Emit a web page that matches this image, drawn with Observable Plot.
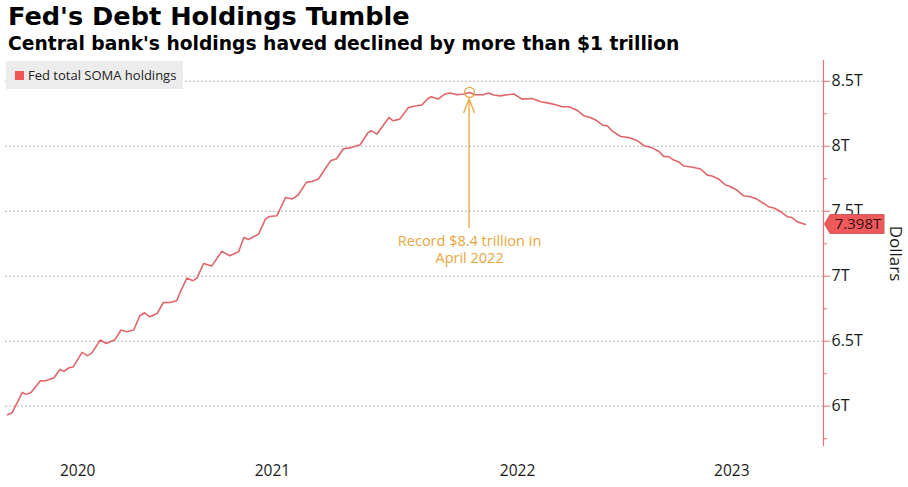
<!DOCTYPE html>
<html><head><meta charset="utf-8">
<script src="https://cdn.jsdelivr.net/npm/d3@7"></script>
<script src="https://cdn.jsdelivr.net/npm/@observablehq/plot@0.6"></script>
<style>
body{margin:0;background:#fff;}
#wrap{position:relative;width:908px;height:487px;overflow:hidden;background:#fff;}
#hdr{height:58px;position:relative;}
.t{position:absolute;left:8px;font-family:"DejaVu Sans",sans-serif;font-weight:bold;color:#000;white-space:nowrap;}
#title{top:3px;font-size:25.6px;line-height:26px;}
#sub{top:34px;font-size:18.7px;line-height:19px;}
#legend{position:absolute;left:6px;top:61px;width:177px;height:28px;background:#ececec;display:flex;align-items:center;font-family:"Open Sans",sans-serif;font-size:13px;color:#222;z-index:2;}
#legend span.sw{display:inline-block;width:9px;height:9px;background:#ee5555;margin-left:9px;margin-right:4px;}
</style></head>
<body>
<div id="wrap">
  <div id="hdr">
    <div id="title" class="t">Fed's Debt Holdings Tumble</div>
    <div id="sub" class="t">Central bank's holdings haved declined by more than $1 trillion</div>
  </div>
  <div id="legend"><span class="sw"></span><span>Fed total SOMA holdings</span></div>
  <div id="chart"></div>
</div>
<script>
// Data (trillions of dollars)
const dates = [
"2020-06-03","2020-06-10","2020-06-25","2020-07-01","2020-07-08","2020-07-22","2020-07-28","2020-08-11",
"2020-08-20","2020-08-26","2020-09-02","2020-09-09","2020-09-22","2020-09-30","2020-10-07","2020-10-19",
"2020-10-28","2020-11-10","2020-11-19","2020-11-27","2020-12-08","2020-12-17","2020-12-24","2021-01-01",
"2021-01-12","2021-01-21","2021-01-31","2021-02-10","2021-02-15","2021-02-25","2021-03-06","2021-03-12",
"2021-03-22","2021-04-03","2021-04-18","2021-04-30","2021-05-13","2021-05-21","2021-05-28","2021-06-12",
"2021-06-22","2021-06-28","2021-07-09","2021-07-22","2021-08-01","2021-08-10","2021-08-22","2021-08-30",
"2021-09-09","2021-09-17","2021-09-27","2021-10-06","2021-10-16","2021-10-27","2021-11-10","2021-11-22",
"2021-11-27","2021-12-05","2021-12-14","2021-12-23","2021-12-29","2022-01-08","2022-01-21","2022-02-02",
"2022-02-10","2022-02-19","2022-02-24","2022-03-06","2022-03-16","2022-03-24","2022-04-03","2022-04-13",
"2022-04-22","2022-04-30","2022-05-13","2022-05-20","2022-05-28","2022-06-07","2022-06-17","2022-06-27",
"2022-07-09","2022-07-24","2022-08-06","2022-08-18","2022-08-28","2022-09-07","2022-09-17","2022-09-29",
"2022-10-09","2022-10-19","2022-10-29","2022-11-06","2022-11-13","2022-11-20","2022-12-03","2022-12-15",
"2022-12-28","2023-01-07","2023-01-19","2023-01-29","2023-02-05","2023-02-13","2023-02-20","2023-02-27",
"2023-03-07","2023-03-19","2023-04-01","2023-04-11","2023-04-18","2023-04-28","2023-05-08","2023-05-15",
"2023-05-25","2023-06-04","2023-06-14","2023-06-24","2023-07-04","2023-07-11","2023-07-19","2023-07-29",
"2023-08-08","2023-08-15","2023-08-22","2023-09-04"];
const values = [
5.935,5.950,6.106,6.091,6.106,6.196,6.194,6.217,
6.283,6.268,6.294,6.304,6.414,6.389,6.412,6.509,
6.483,6.512,6.586,6.573,6.586,6.696,6.719,6.688,
6.714,6.798,6.798,6.812,6.875,6.986,6.965,6.986,
7.098,7.078,7.191,7.158,7.188,7.298,7.283,7.325,
7.440,7.460,7.465,7.606,7.594,7.627,7.722,7.729,
7.748,7.812,7.888,7.904,7.981,7.988,8.012,8.106,
8.119,8.094,8.158,8.222,8.196,8.209,8.298,8.312,
8.317,8.368,8.381,8.363,8.402,8.410,8.396,8.402,
8.414,8.396,8.396,8.410,8.394,8.388,8.396,8.402,
8.363,8.368,8.342,8.332,8.319,8.304,8.304,8.278,
8.235,8.222,8.196,8.163,8.158,8.119,8.075,8.068,
8.042,8.004,7.988,7.960,7.922,7.919,7.894,7.881,
7.848,7.840,7.825,7.778,7.771,7.748,7.702,7.691,
7.663,7.619,7.612,7.594,7.560,7.535,7.525,7.498,
7.458,7.452,7.422,7.398];

const yearLabels = ["2020","2021","2022","2023"];
const majorTicks = [6, 6.5, 7, 7.5, 8, 8.5];
const minorTicks = [5.75, 6.25, 6.75, 7.25, 7.75, 8.25];
const xDomain = ["2020-05-31","2023-10-01"];
const yDomain = [5.69, 8.66];
const seriesName = "Fed total SOMA holdings";
const annotationDate = "2022-04-22";
const annotationText = "Record $8.4 trillion in\nApril 2022";
const unitLabel = "Dollars";

const lineColor = "#e0656a";
const axisColor = "#e57375";
const annoColor = "#e9a540";

const table = dates.map((d, i) => ({date: new Date(d), value: values[i]}));
const x0 = new Date(xDomain[0]), x1 = new Date(xDomain[1]);
// center year labels in the visible portion of each year
const yearTable = yearLabels.map(y => {
  const s = new Date(`${y}-01-01`), e = new Date(`${+y + 1}-01-01`);
  const a = s < x0 ? x0 : s, b = e > x1 ? x1 : e;
  return {label: y, date: new Date((+a + +b) / 2)};
});
const annoPoint = table.find(d => +d.date === +new Date(annotationDate));
const last = table[table.length - 1];

const W = 908, H = 429;

function annoArrow(index, scales) {
  const g = d3.create("svg:g").attr("stroke", annoColor).attr("fill", "none").attr("stroke-width", 1.3);
  const x = scales.x(annoPoint.date), y = scales.y(annoPoint.value);
  g.append("line").attr("x1", x).attr("x2", x).attr("y1", y + 7).attr("y2", y + 136);
  g.append("path").attr("d", `M${x - 5.5},${y + 21}L${x},${y + 7}L${x + 5.5},${y + 21}`);
  return g.node();
}

function valueTag(index, scales, values, dims) {
  const xr = dims.width - dims.marginRight;
  const y = scales.y(last.value);
  const g = d3.create("svg:g");
  const h = 9.5;
  g.append("path")
    .attr("d", `M${xr + 1.5},${y}L${xr + 7},${y - h}L${xr + 61},${y - h}L${xr + 61},${y + h}L${xr + 7},${y + h}Z`)
    .attr("fill", "#ee5a5c").attr("stroke", "#c9474a").attr("stroke-width", 0.8);
  g.append("text").attr("x", xr + 35).attr("y", y).attr("dy", "0.35em")
    .attr("text-anchor", "middle").attr("font-size", 15).attr("fill", "#3a0d0d")
    .attr("font-family", "Open Sans, sans-serif")
    .text(`${last.value.toFixed(3)}T`);
  return g.node();
}

const chart = Plot.plot({
  width: W, height: H,
  marginTop: 2, marginBottom: 41, marginLeft: 5, marginRight: 85,
  style: {fontFamily: "Open Sans, sans-serif", fontSize: "14px", background: "white", overflow: "visible"},
  x: {type: "time", domain: [x0, x1], axis: null},
  y: {domain: yDomain, axis: null},
  marks: [
    Plot.gridY({ticks: majorTicks, stroke: "#b5b5b5", strokeOpacity: 1, strokeDasharray: "2,2"}),
    Plot.ruleX([x1], {stroke: axisColor, strokeWidth: 1.2}),
    Plot.axisY({anchor: "right", ticks: minorTicks, tickSize: 3, tickFormat: () => "", stroke: axisColor, label: null}),
    Plot.axisY({anchor: "right", ticks: majorTicks, tickSize: 6, tickPadding: 2, tickFormat: d => `${d}T`,
      stroke: axisColor, fill: "#1a1a1a", fontSize: 16, label: null}),
    Plot.text(yearTable, {x: "date", frameAnchor: "bottom", dy: 29, text: "label", fontSize: 15.5, fill: "#1a1a1a"}),
    Plot.line(table, {x: "date", y: "value", stroke: lineColor, strokeWidth: 1.6, curve: "linear"}),
    Plot.dot([annoPoint], {x: "date", y: "value", r: 5, stroke: annoColor, fill: "none", strokeWidth: 1.2}),
    annoArrow,
    Plot.text([annoPoint], {x: "date", y: "value", text: () => annotationText, dy: 141, lineAnchor: "top",
      lineHeight: 1.2, fontSize: 14.5, fill: annoColor}),
    Plot.text([unitLabel], {frameAnchor: "right", dx: 72, rotate: 90, textAnchor: "middle", text: d => d, fontSize: 17, fill: "#1a1a1a"}),
    valueTag
  ]
});
document.getElementById("chart").appendChild(chart);
</script>
</body></html>
